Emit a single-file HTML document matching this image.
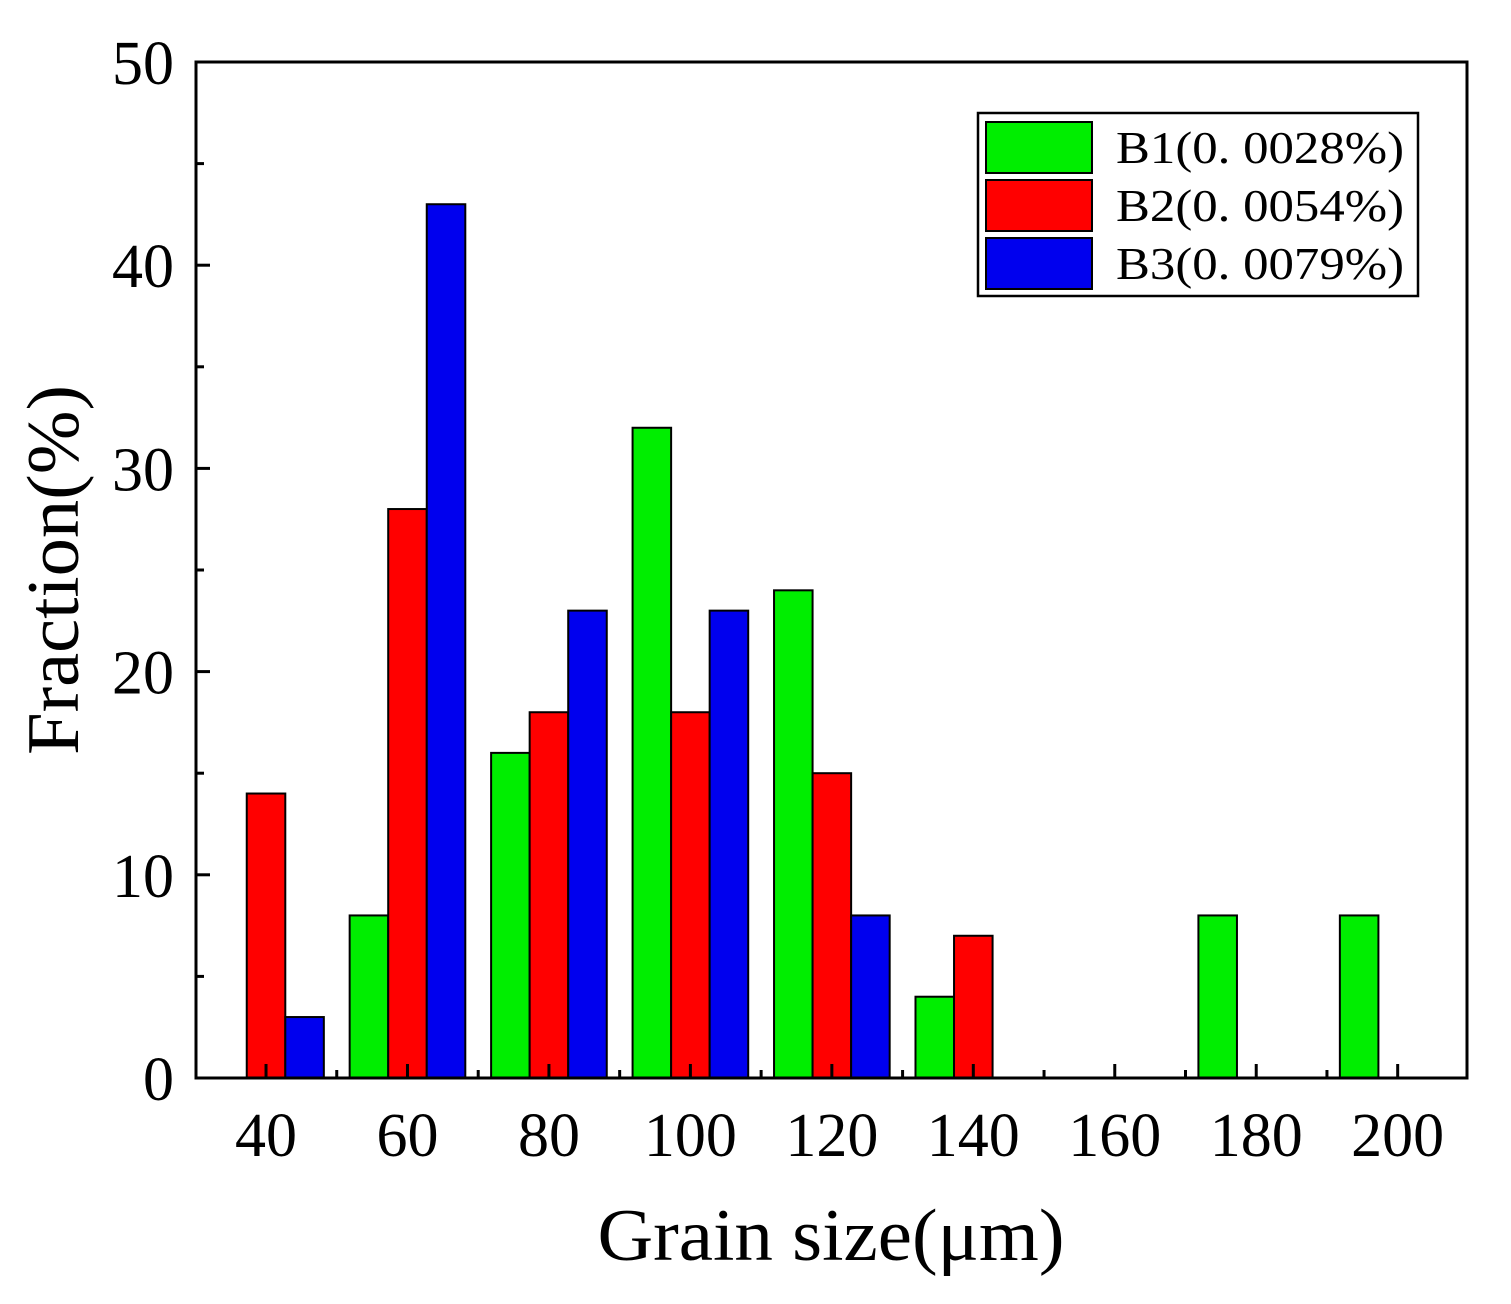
<!DOCTYPE html>
<html><head><meta charset="utf-8"><style>
html,body{margin:0;padding:0;background:#fff;}
svg{display:block;font-family:"Liberation Serif","Noto Serif CJK SC",serif;}
</style></head><body>
<svg id="chart" width="1511" height="1304" viewBox="0 0 1511 1304" xmlns="http://www.w3.org/2000/svg">
<g id="bars"></g>
<g id="axes"></g>
<rect x="196" y="62" width="1271" height="1016" fill="none" stroke="#000" stroke-width="3"/>
<text x="831" y="1260" font-size="74" text-anchor="middle" textLength="467" lengthAdjust="spacingAndGlyphs">Grain size(μm)</text>
<text transform="translate(78,570) rotate(-90)" font-size="74" text-anchor="middle" textLength="370" lengthAdjust="spacingAndGlyphs">Fraction(%)</text>
<g>
<rect x="978" y="113" width="440" height="183" fill="#fff" stroke="#000" stroke-width="2.5"/>
<rect x="986" y="122" width="106" height="51" fill="#00ee00" stroke="#000" stroke-width="2"/>
<rect x="986" y="180" width="106" height="51" fill="#ff0000" stroke="#000" stroke-width="2"/>
<rect x="986" y="238" width="106" height="51" fill="#0000ee" stroke="#000" stroke-width="2"/>
<text x="1116" y="163" font-size="46" textLength="288" lengthAdjust="spacingAndGlyphs">B1(0. 0028%)</text>
<text x="1116" y="221" font-size="46" textLength="288" lengthAdjust="spacingAndGlyphs">B2(0. 0054%)</text>
<text x="1116" y="279" font-size="46" textLength="288" lengthAdjust="spacingAndGlyphs">B3(0. 0079%)</text>
</g>
</svg>
<script>
const categories = [40, 60, 80, 100, 120, 140, 160, 180, 200];
const b1Values = [0, 8, 16, 32, 24, 4, 0, 8, 8];
const b2Values = [14, 28, 18, 18, 15, 7, 0, 0, 0];
const b3Values = [3, 43, 23, 23, 8, 0, 0, 0, 0];
const yTicks = [0, 10, 20, 30, 40, 50];
const xTicks = [40, 60, 80, 100, 120, 140, 160, 180, 200];

const NS = "http://www.w3.org/2000/svg";
const L = 196, R = 1467, T = 62, B = 1078;
const xMin = 30.1, xMax = 209.8, yMin = 0, yMax = 50;
const xs = v => L + (v - xMin) / (xMax - xMin) * (R - L);
const ys = v => B - (v - yMin) / (yMax - yMin) * (B - T);
const barW = 5.45;

function mk(tag, attrs, parent) {
  const e = document.createElementNS(NS, tag);
  for (const k in attrs) e.setAttribute(k, attrs[k]);
  parent.appendChild(e);
  return e;
}
const gb = document.getElementById('bars');
const ga = document.getElementById('axes');
const series = [
  {vals: b1Values, color: '#00ee00', off: -1, name: 'b1'},
  {vals: b2Values, color: '#ff0000', off: 0, name: 'b2'},
  {vals: b3Values, color: '#0000ee', off: 1, name: 'b3'}
];
series.forEach(s => {
  categories.forEach((c, i) => {
    const v = s.vals[i];
    if (v <= 0) return;
    const x0 = xs(c + s.off * barW - barW / 2), x1 = xs(c + s.off * barW + barW / 2);
    const r = mk('rect', {x: x0, y: ys(v), width: x1 - x0, height: ys(0) - ys(v), fill: s.color, stroke: '#000', 'stroke-width': 2}, gb);
    
    
  });
});
for (let v = 0; v <= 50; v += 5) {
  const major = v % 10 === 0;
  const t = mk('line', {x1: L, x2: L + (major ? 14 : 8), y1: ys(v), y2: ys(v), stroke: '#000', 'stroke-width': 3}, ga);
  
  
}
yTicks.forEach(v => {
  const t = mk('text', {x: L - 22, y: ys(v) + 22, 'font-size': 62, 'text-anchor': 'end'}, ga);
  t.textContent = v;
  
  
});
for (let v = 40; v <= 200; v += 10) {
  const major = v % 20 === 0;
  const t = mk('line', {x1: xs(v), x2: xs(v), y1: B, y2: B - (major ? 14 : 8), stroke: '#000', 'stroke-width': 3}, ga);
  
  
}
xTicks.forEach(v => {
  const t = mk('text', {x: xs(v), y: B + 78, 'font-size': 62, 'text-anchor': 'middle'}, ga);
  t.textContent = v;
  
  
});
</script>
</body></html>
